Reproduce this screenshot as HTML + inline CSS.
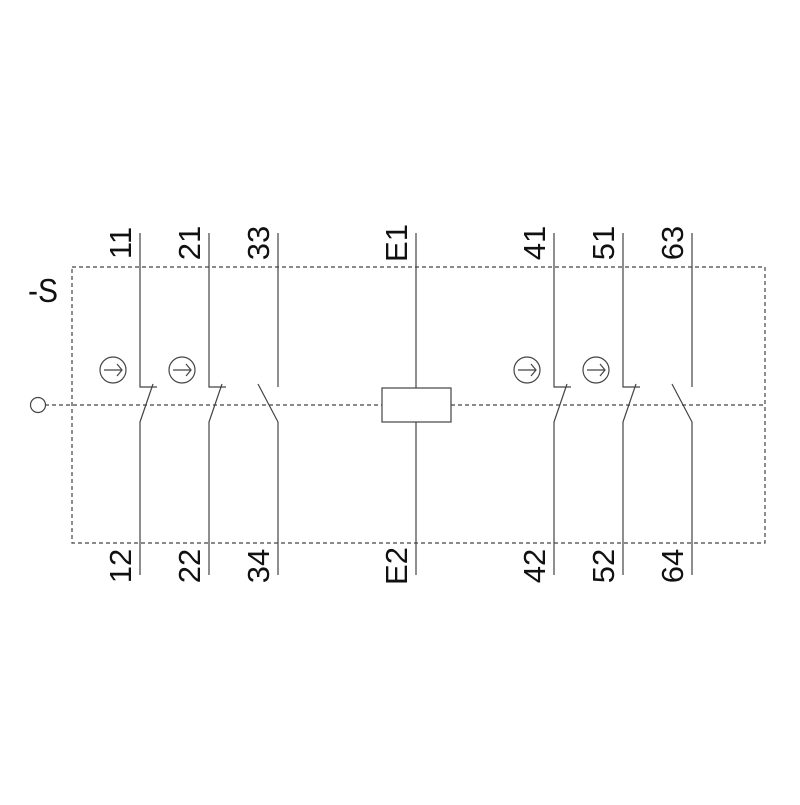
<!DOCTYPE html>
<html><head><style>body{margin:0;background:#fff}</style></head><body>
<svg width="800" height="800" xmlns="http://www.w3.org/2000/svg" font-family="Liberation Sans, sans-serif">
<rect x="0" y="0" width="800" height="800" fill="#fff"/>
<g stroke="#444" stroke-width="1.2" fill="none">
<rect x="72" y="267" width="693" height="276" stroke-dasharray="4,3"/>
<line x1="45" y1="405" x2="382" y2="405" stroke-dasharray="4,3"/>
<line x1="451" y1="405" x2="765" y2="405" stroke-dasharray="4,3"/>
<circle cx="38" cy="405" r="7.5"/>
<path d="M140 233 V387 H157 M153 384 L140 422 V575"/>
<path d="M209 233 V387 H226 M222 384 L209 422 V575"/>
<path d="M554 233 V387 H571 M567 384 L554 422 V575"/>
<path d="M623 233 V387 H640 M636 384 L623 422 V575"/>
<path d="M278 233 V387 M258 384 L278 422 V575"/>
<path d="M692 233 V387 M672 384 L692 422 V575"/>
<path d="M416 233 V388 M416 422 V575"/>
<rect x="382" y="388" width="69" height="34"/>
<circle cx="113" cy="370" r="13"/><path d="M104 370 H122 M117 364 L122 370 L117 376"/>
<circle cx="182" cy="370" r="13"/><path d="M173 370 H191 M186 364 L191 370 L186 376"/>
<circle cx="527" cy="370" r="13"/><path d="M518 370 H536 M531 364 L536 370 L531 376"/>
<circle cx="596" cy="370" r="13"/><path d="M587 370 H605 M600 364 L605 370 L600 376"/>
</g>
<g font-size="31" fill="#111">
<text x="28" y="302" font-size="33" textLength="30" lengthAdjust="spacingAndGlyphs">-S</text>
<g text-anchor="middle">
<text transform="translate(131,243) rotate(-90)">11</text>
<text transform="translate(200,243) rotate(-90)">21</text>
<text transform="translate(269,243) rotate(-90)">33</text>
<text transform="translate(407,243) rotate(-90)">E1</text>
<text transform="translate(545,243) rotate(-90)">41</text>
<text transform="translate(614,243) rotate(-90)">51</text>
<text transform="translate(683,243) rotate(-90)">63</text>
<text transform="translate(131,566) rotate(-90)">12</text>
<text transform="translate(200,566) rotate(-90)">22</text>
<text transform="translate(269,566) rotate(-90)">34</text>
<text transform="translate(407,566) rotate(-90)">E2</text>
<text transform="translate(545,566) rotate(-90)">42</text>
<text transform="translate(614,566) rotate(-90)">52</text>
<text transform="translate(683,566) rotate(-90)">64</text>
</g>
</g>
</svg>
</body></html>
